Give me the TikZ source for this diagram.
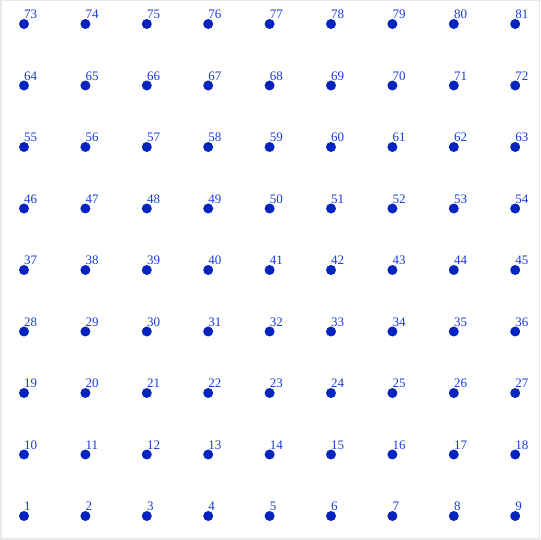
\documentclass[tikz,border=0pt]{standalone}
\usepackage{fontspec}
\setmainfont{Liberation Serif}
\definecolor{dotblue}{RGB}{5,35,190}
\definecolor{txtblue}{RGB}{25,60,215}
\definecolor{framegray}{RGB}{232,232,232}
\begin{document}
\begin{tikzpicture}[x=1pt,y=1pt,
  gdot/.style={circle,fill=dotblue,inner sep=0pt,minimum size=10pt},
  glabel/.style={anchor=base west,inner sep=0pt,text=txtblue,font=\fontsize{13}{13}\selectfont}]
\useasboundingbox (0,0) rectangle (540,540);
\draw[framegray,line width=1.5pt] (0.75,0.75) rectangle (539.25,539.25);
\foreach \r in {0,...,8}{
  \foreach \c in {0,...,8}{
    \pgfmathtruncatemacro{\n}{\r*9+\c+1}
    \pgfmathsetmacro{\xx}{24+61.4*\c}
    \pgfmathsetmacro{\yy}{24+61.5*\r}
    \node[gdot] (d\n) at (\xx,\yy) {};
    \node[glabel] (l\n) at (\xx,\yy+5) {\n};
  }
}
\end{tikzpicture}
\end{document}
